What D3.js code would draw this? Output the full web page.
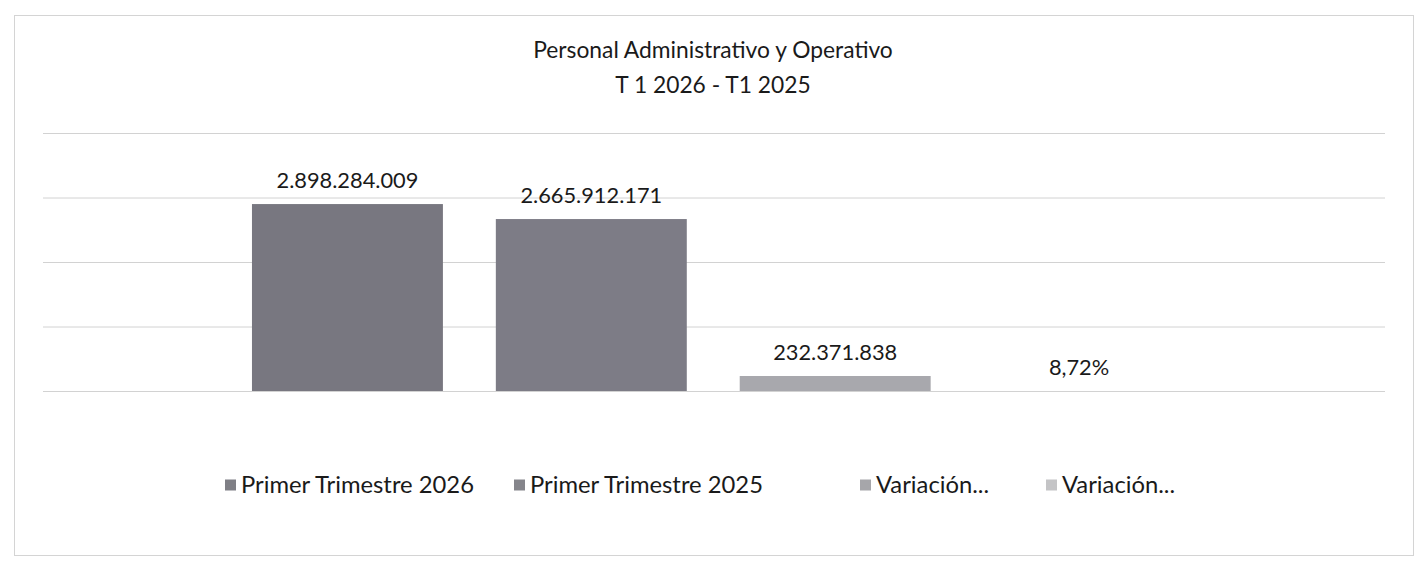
<!DOCTYPE html>
<html>
<head>
<meta charset="utf-8">
<script src="https://cdn.jsdelivr.net/npm/d3@7"></script>
<style>
  body { margin: 0; background: #fff; }
  svg { display: block; font-family: Lato, "Open Sans", sans-serif; }
</style>
</head>
<body>
<svg id="chart" width="1421" height="566"></svg>
<script>
var titleLines = ["Personal Administrativo y Operativo", "T 1 2026 - T1 2025"];
var seriesNames = ["Primer Trimestre 2026", "Primer Trimestre 2025", "Variación...", "Variación..."];
var seriesValues = [2898284009, 2665912171, 232371838, 0.0872];
var seriesLabels = ["2.898.284.009", "2.665.912.171", "232.371.838", "8,72%"];
var seriesColors = ["#787780", "#7d7c86", "#a8a8ad", "#bdbdc0"];
var legendColors = ["#7f7f85", "#85858b", "#a6a6aa", "#c4c4c6"];
var yTicks = [0, 1e9, 2e9, 3e9, 4e9];

var svg = d3.select("#chart");

var plot = { left: 43, right: 1385, top: 133, bottom: 391 };

// chart frame
svg.append("rect")
  .attr("x", 14.5).attr("y", 15.5)
  .attr("width", 1399).attr("height", 540)
  .attr("fill", "#fff")
  .attr("stroke", "#d4d4d4");

var yScale = d3.scaleLinear()
  .domain([0, 4e9])
  .range([plot.bottom, plot.top]);

var xScale = d3.scaleBand()
  .domain(d3.range(seriesNames.length))
  .range([225.5, 1201])
  .paddingInner(0.217)
  .paddingOuter(0.1085);

// gridlines
var yAxis = d3.axisLeft(yScale)
  .tickValues(yTicks)
  .tickSize(-(plot.right - plot.left))
  .tickFormat("");

var grid = svg.append("g")
  .attr("transform", "translate(" + plot.left + ",0)")
  .call(yAxis);
grid.select(".domain").remove();
grid.selectAll(".tick line")
  .attr("stroke", "#d2d2d2")
  .attr("stroke-width", 1);

// bars
svg.append("g").selectAll("rect")
  .data(seriesValues)
  .join("rect")
  .attr("x", function (d, i) { return xScale(i); })
  .attr("y", function (d) { return yScale(d); })
  .attr("width", xScale.bandwidth())
  .attr("height", function (d) { return plot.bottom - yScale(d); })
  .attr("fill", function (d, i) { return seriesColors[i]; });

// data labels
svg.append("g").selectAll("text")
  .data(seriesValues)
  .join("text")
  .attr("x", function (d, i) { return xScale(i) + xScale.bandwidth() / 2; })
  .attr("y", function (d) { return yScale(d) - 16; })
  .attr("text-anchor", "middle")
  .attr("font-size", 21.8)
  .attr("fill", "#1a1a1a")
  .text(function (d, i) { return seriesLabels[i]; });

// title
svg.append("g").selectAll("text")
  .data(titleLines)
  .join("text")
  .attr("x", 713)
  .attr("y", function (d, i) { return 58 + i * 35; })
  .attr("text-anchor", "middle")
  .attr("font-size", 22.8)
  .attr("fill", "#1a1a1a")
  .text(function (d) { return d; });

// legend
var legendX = [225, 514, 860, 1046];
var legend = svg.append("g").selectAll("g")
  .data(seriesNames)
  .join("g")
  .attr("transform", function (d, i) { return "translate(" + legendX[i] + ",485)"; });

legend.append("rect")
  .attr("x", 0).attr("y", -5.5)
  .attr("width", 11).attr("height", 11)
  .attr("fill", function (d, i) { return legendColors[i]; });

legend.append("text")
  .attr("x", 16)
  .attr("y", 8)
  .attr("font-size", 23.8)
  .attr("fill", "#1a1a1a")
  .text(function (d) { return d; });
</script>
</body>
</html>
